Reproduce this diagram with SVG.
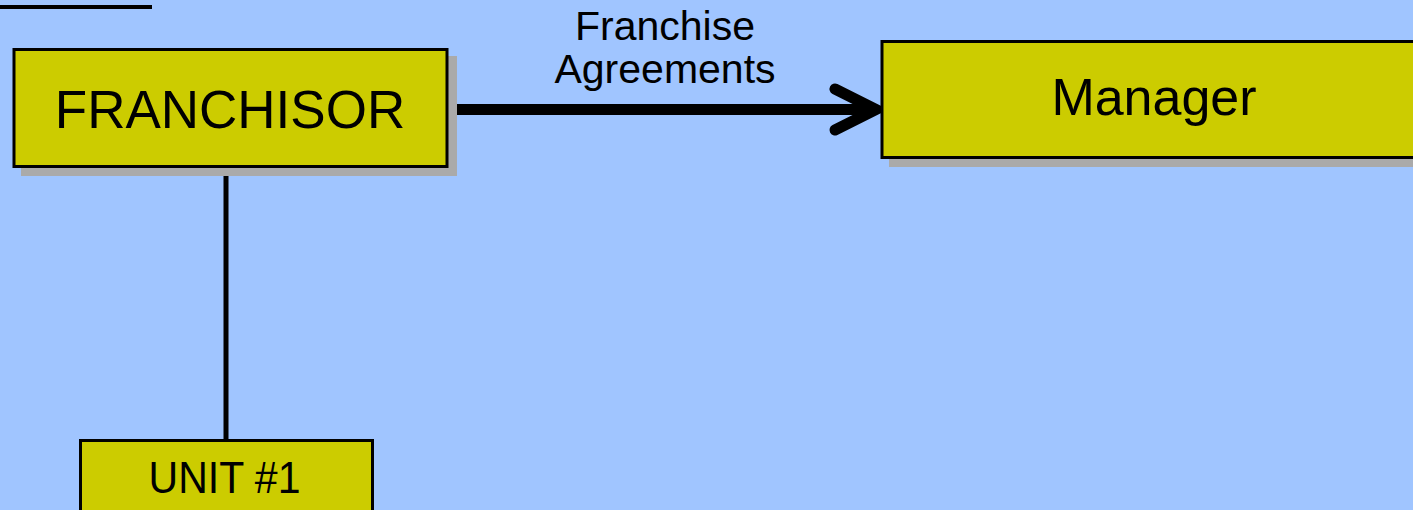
<svg xmlns="http://www.w3.org/2000/svg" width="1413" height="510" viewBox="0 0 1413 510">
  <style>
    .box { fill: #cccc00; stroke: #000; stroke-width: 3; }
    .shadow { fill: #aaaaaa; }
    .label { font-family: "Liberation Sans", Arial, sans-serif; fill: #000; text-anchor: middle; }
    .wire { stroke: #000; fill: none; }
  </style>
  <rect width="1413" height="510" fill="#a0c5ff"/>
  <!-- header rule -->
  <line x1="0" y1="7" x2="152" y2="7" stroke="#000" stroke-width="4"/>

  <g id="connectors">
    <line class="wire" x1="226" y1="167" x2="226" y2="440" stroke-width="5"/>
    <line class="wire" x1="456" y1="109.5" x2="876" y2="109.5" stroke-width="11"/>
    <polyline class="wire" points="835,89 876,109.5 835,130" stroke-width="11" stroke-linecap="round" stroke-linejoin="miter"/>
    <text class="label" x="665" y="40" font-size="41">Franchise</text>
    <text class="label" x="665" y="83" font-size="41">Agreements</text>
  </g>

  <g id="franchisor">
    <rect class="shadow" x="21" y="56" width="436" height="120"/>
    <rect class="box" x="14" y="49.5" width="433" height="117"/>
    <text class="label" x="230" y="128" font-size="53">FRANCHISOR</text>
  </g>

  <g id="manager">
    <rect class="shadow" x="889" y="48" width="530" height="119"/>
    <rect class="box" x="882" y="41.5" width="535" height="116"/>
    <text class="label" x="1154" y="115" font-size="52">Manager</text>
  </g>

  <g id="unit1">
    <rect class="box" x="80.5" y="440.5" width="292" height="80" stroke-width="2"/>
    <text class="label" transform="translate(224.5 493) scale(1 1.07)" font-size="41">UNIT #1</text>
  </g>
</svg>
